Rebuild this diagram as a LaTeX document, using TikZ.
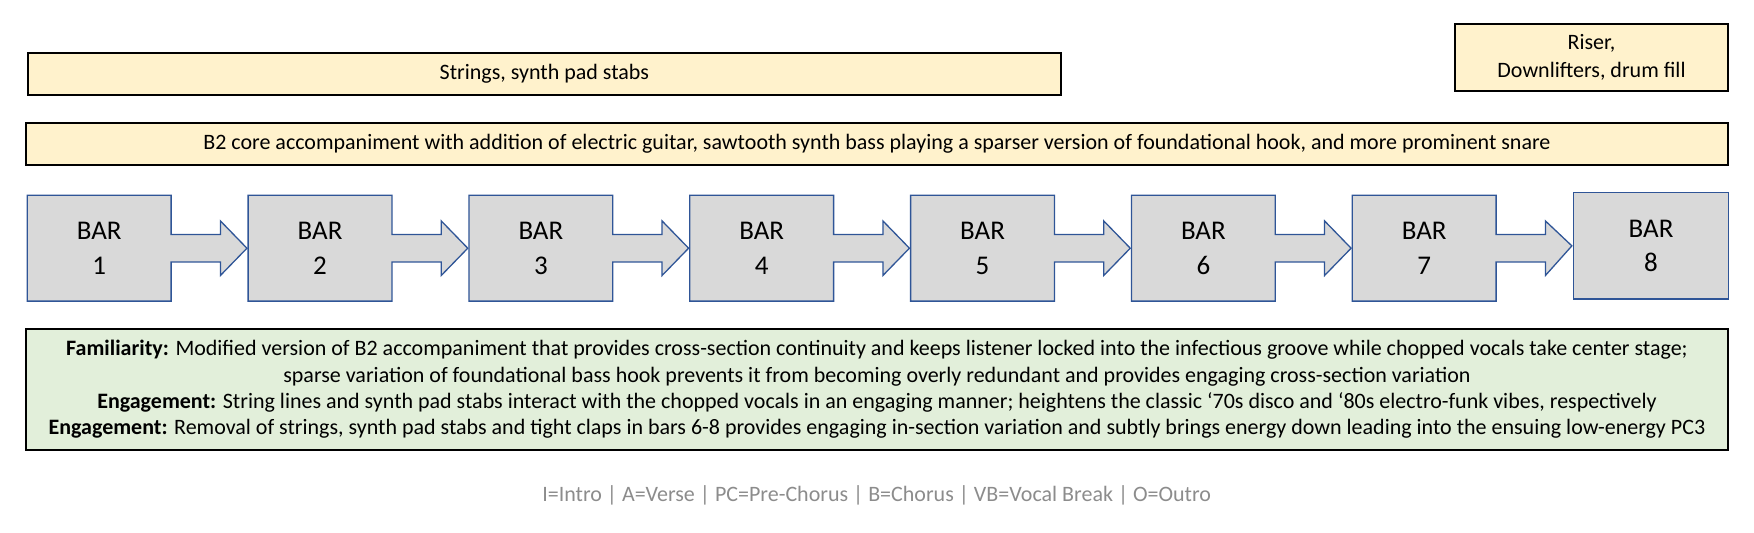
\documentclass[tikz,border=0pt]{standalone}
\usepackage{fontspec}
\setmainfont{Carlito}
\usetikzlibrary{calc,backgrounds}
\definecolor{cream}{HTML}{FFF2CC}
\definecolor{greenfill}{HTML}{E2EFDA}
\definecolor{barfill}{HTML}{D9D9D9}
\definecolor{barline}{HTML}{2F5597}
\definecolor{legendgray}{HTML}{8C8C8C}
\tikzset{
  notebox/.style={draw=black, line width=0.9pt, fill=cream, inner sep=0pt, align=center,
    font=\fontsize{11}{14}\selectfont},
  greenbox/.style={draw=black, line width=0.9pt, fill=greenfill, inner sep=0pt, align=center,
    font=\fontsize{11}{13.15}\selectfont},
  barnode/.style={minimum width=71.5pt, minimum height=52.5pt, inner sep=0pt, align=center,
    font=\fontsize{13.5}{17.3}\selectfont},
  barshape/.style={draw=barline, line width=0.65pt, fill=barfill, line join=miter},
  legendtext/.style={text=legendgray, font=\fontsize{11}{13}\selectfont, inner sep=0pt}
}
\begin{document}
\begin{tikzpicture}[x=0.5pt,y=-0.5pt]
\useasboundingbox (0,0) rectangle (1754,532);
% top boxes
\node[notebox, minimum width=516.65pt, minimum height=21pt] (strings) at (544.35,73.7) {Strings, synth pad stabs};
\node[notebox, minimum width=136.8pt, minimum height=33.35pt] (riser) at (1591.5,57.35) {Riser,\\Downlifters, drum fill};
\node[notebox, minimum width=851.3pt, minimum height=20.7pt] (b2) at (877,144) {B2 core accompaniment with addition of electric guitar, sawtooth synth bass playing a sparser version of foundational hook, and more prominent snare};
% bars
\foreach \i in {1,...,7}{
  \node[barnode] (bar\i) at ({99.2+(\i-1)*220.83},248.2) {BAR\\\i};
}
\node[barnode, minimum width=77.3pt, minimum height=53.15pt, barshape] (bar8) at (1651,245.85) {BAR\\8};
\begin{scope}[on background layer]
\foreach \i [evaluate=\i as \j using int(\i+1)] in {1,...,7}{
  \draw[barshape] (bar\i.north west) -- (bar\i.north east)
    -- ($(bar\i.east)+(0,-13.7)$) -- ($(bar\i.east)+(49.3,-13.7)$)
    -- ($(bar\i.east)+(49.3,-27.3)$) -- ($(bar\j.west)+(-1.2,0)$)
    -- ($(bar\i.east)+(49.3,27.3)$) -- ($(bar\i.east)+(49.3,13.7)$)
    -- ($(bar\i.east)+(0,13.7)$) -- (bar\i.south east) -- (bar\i.south west) -- cycle;
}
\end{scope}
% green box
\node[greenbox, minimum width=851.3pt, minimum height=60.5pt] (notes) at (877,389.5) {%
\textbf{Familiarity:} Modified version of B2 accompaniment that provides cross-section continuity and keeps listener locked into the infectious groove while chopped vocals take center stage;\\
sparse variation of foundational bass hook prevents it from becoming overly redundant and provides engaging cross-section variation\\
\textbf{Engagement:} String lines and synth pad stabs interact with the chopped vocals in an engaging manner; heightens the classic ‘70s disco and ‘80s electro-funk vibes, respectively\\
\textbf{Engagement:} Removal of strings, synth pad stabs and tight claps in bars 6-8 provides engaging in-section variation and subtly brings energy down leading into the ensuing low-energy PC3};
% legend
\node[legendtext] (legend) at (876.7,495) {I=Intro | A=Verse | PC=Pre-Chorus | B=Chorus | VB=Vocal Break | O=Outro};
\end{tikzpicture}
\end{document}
